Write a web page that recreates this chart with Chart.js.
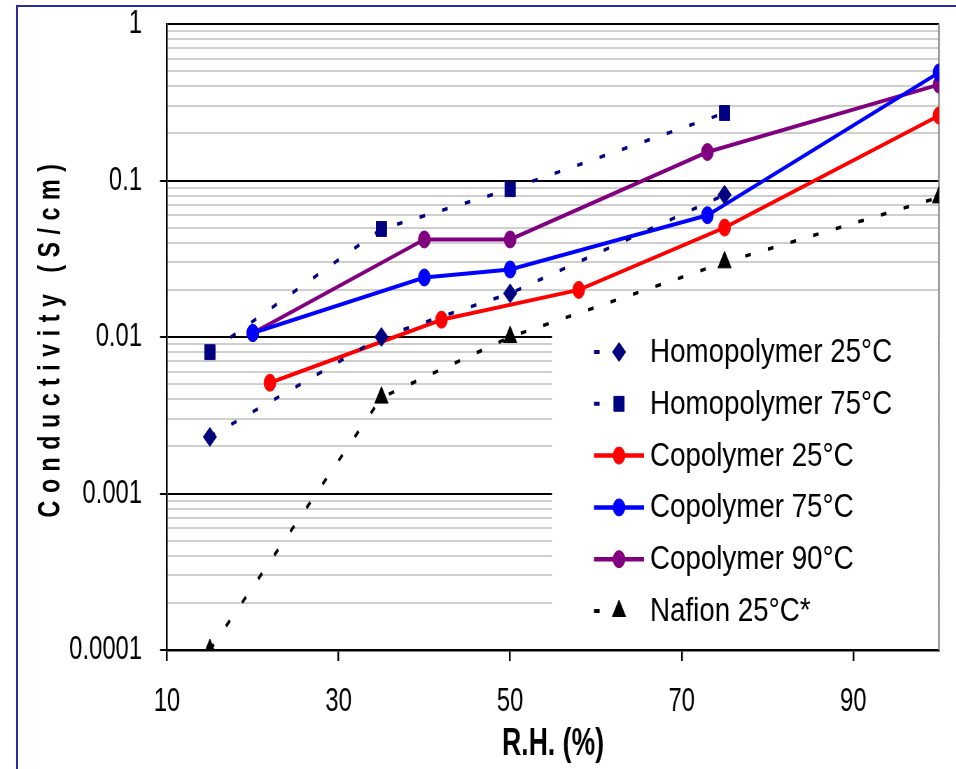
<!DOCTYPE html>
<html>
<head>
<meta charset="utf-8">
<script src="https://cdn.jsdelivr.net/npm/chart.js@4.4.0/dist/chart.umd.min.js"></script>
<style>
html, body { margin: 0; padding: 0; background: #fff; overflow: hidden; }
#frame { position: absolute; left: 16px; top: 5px; width: 1000px; height: 800px; border: 2px solid #2b2b9c; }
#wrap { position: absolute; left: 0; top: 0; width: 956px; height: 769px; overflow: hidden; }
#chart { width: 1366px; height: 769px; transform: scaleX(0.7); transform-origin: 0 0; }
</style>
</head>
<body>
<div id="frame"></div>
<div id="wrap"><canvas id="chart" width="1366" height="769"></canvas></div>
<script>
// values
var homo25X = [15, 35, 50, 75];
var homo25Y = [0.0023, 0.010, 0.019, 0.081];
var homo75X = [15, 35, 50, 75];
var homo75Y = [0.0080, 0.049, 0.088, 0.27];
var co25X = [22, 42, 58, 75, 100];
var co25Y = [0.0051, 0.0129, 0.020, 0.050, 0.26];
var co75X = [20, 40, 50, 73, 100];
var co75Y = [0.0106, 0.024, 0.027, 0.060, 0.49];
var co90X = [20, 40, 50, 73, 100];
var co90Y = [0.0106, 0.042, 0.042, 0.152, 0.41];
var nafionX = [15, 35, 50, 75, 100];
var nafionY = [0.0001, 0.0041, 0.010, 0.030, 0.078];

var seriesNames = ["Homopolymer 25\u00b0C", "Homopolymer 75\u00b0C", "Copolymer 25\u00b0C",
  "Copolymer 75\u00b0C", "Copolymer 90\u00b0C", "Nafion 25\u00b0C*"];
var xTicks = [10, 30, 50, 70, 90];
var yDecades = [0.0001, 0.001, 0.01, 0.1, 1];
var yTickLabels = ["0.0001", "0.001", "0.01", "0.1", "1"];

// the canvas is drawn wide and squeezed by CSS, like the narrow original
var SQ = 0.7;
var FONT = '"Liberation Sans", Arial, sans-serif';

function pts(xs, ys) {
  return xs.map(function (x, i) { return { x: x, y: ys[i] }; });
}
function isDecade(v) {
  return yDecades.some(function (d) { return Math.abs(v / d - 1) < 1e-6; });
}

function series(i, xs, ys, color, style, radius, dashed) {
  return {
    label: seriesNames[i],
    data: pts(xs, ys),
    borderColor: color,
    backgroundColor: color,
    borderWidth: dashed ? 3.5 : 4,
    borderDash: dashed ? [8, 25] : [],
    pointStyle: style,
    pointRadius: radius,
    pointBorderWidth: 1,
    tension: 0
  };
}

var datasets = [
  series(0, homo25X, homo25Y, "#000080", "rectRot", 9.5, true),
  series(1, homo75X, homo75Y, "#000080", "rect", 10.5, true),
  series(2, co25X, co25Y, "#ff0000", "circle", 8.5, false),
  series(3, co75X, co75Y, "#0000ff", "circle", 8.5, false),
  series(4, co90X, co90Y, "#800080", "circle", 8.5, false),
  series(5, nafionX, nafionY, "#000000", "triangle", 11, true)
];

// white legend box inside the plot, bottom right
var boxLegend = {
  id: "boxLegend",
  beforeDatasetsDraw: function (chart) {
    var ctx = chart.ctx, area = chart.chartArea;
    var bx = 552 / SQ;
    ctx.save();
    ctx.fillStyle = "#fff";
    ctx.fillRect(bx, 322, area.right - bx - 1, area.bottom - 322 - 1);
    ctx.strokeStyle = "#8c8c8c";
    ctx.lineWidth = 2.5;
    ctx.beginPath();
    ctx.moveTo(area.right, area.top);
    ctx.lineTo(area.right, area.bottom);
    ctx.stroke();

    chart.data.datasets.forEach(function (ds, i) {
      var y = 352 + i * 51.8;
      var dashed = ds.borderDash.length > 0;
      ctx.setLineDash(ds.borderDash);
      ctx.strokeStyle = ds.borderColor;
      ctx.lineWidth = ds.borderWidth + 0.5;
      ctx.beginPath();
      ctx.moveTo(594 / SQ, y);
      ctx.lineTo((dashed ? 638 : 644) / SQ, y);
      ctx.stroke();
      ctx.setLineDash([]);
      ctx.fillStyle = ds.backgroundColor;
      ctx.lineWidth = 1;
      Chart.helpers.drawPoint(ctx, { pointStyle: ds.pointStyle, radius: ds.pointRadius, rotation: 0, borderWidth: 1 }, 619 / SQ, y);
      ctx.save();
      ctx.translate(650 / SQ, y + 1);
      ctx.scale(0.84 / SQ, 1);
      ctx.fillStyle = "#000";
      ctx.font = "33px " + FONT;
      ctx.textBaseline = "middle";
      ctx.textAlign = "left";
      ctx.fillText(ds.label, 0, 0);
      ctx.restore();
    });
    ctx.restore();
  }
};

// spaced-out rotated y title
var yTitle = {
  id: "yTitle",
  afterDraw: function (chart) {
    var ctx = chart.ctx;
    ctx.save();
    ctx.translate(51 / SQ, 337);
    ctx.scale(1 / SQ, 1);
    ctx.rotate(-Math.PI / 2);
    ctx.scale(0.75, 1);
    ctx.font = "bold 31px " + FONT;
    ctx.letterSpacing = "10px";
    ctx.fillStyle = "#000";
    ctx.textAlign = "center";
    ctx.textBaseline = "middle";
    ctx.fillText("Conductivity (S/cm)", 0, 0);
    ctx.restore();
  }
};

new Chart(document.getElementById("chart").getContext("2d"), {
  type: "line",
  data: { datasets: datasets },
  options: {
    responsive: false,
    animation: false,
    layout: { padding: { left: 0, right: 1366 - 939 / SQ, top: 24, bottom: 0 } },
    plugins: { legend: { display: false }, tooltip: { enabled: false } },
    scales: {
      x: {
        type: "linear",
        min: 10,
        max: 100,
        afterBuildTicks: function (scale) {
          scale.ticks = xTicks.map(function (v) { return { value: v }; });
        },
        afterFit: function (scale) {
          scale.height = 119;
          scale.paddingLeft = 0;
          scale.paddingRight = 0;
        },
        grid: { drawOnChartArea: false, drawTicks: true, tickLength: 11, color: "#000", lineWidth: 2.5 },
        border: { color: "#000", width: 2.5 },
        ticks: { color: "#000", padding: 20, font: { family: FONT, size: 34 }, autoSkip: false, maxRotation: 0 },
        title: { display: true, text: "R.H. (%)", color: "#000", padding: { top: 0, bottom: 2 },
          font: { family: FONT, size: 38, weight: "bold" } }
      },
      y: {
        type: "logarithmic",
        min: 0.0001,
        max: 1,
        afterBuildTicks: function (scale) {
          var t = [];
          yDecades.forEach(function (d, i) {
            t.push({ value: d, major: true });
            if (i < yDecades.length - 1) {
              for (var k = 2; k <= 9; k++) t.push({ value: d * k });
            }
          });
          scale.ticks = t;
        },
        afterFit: function (scale) {
          scale.width = 167 / SQ;
          scale.paddingTop = 0;
          scale.paddingBottom = 0;
        },
        grid: {
          color: function (c) { return isDecade(c.tick.value) ? "#000" : "#cfcfcf"; },
          tickColor: function (c) { return isDecade(c.tick.value) && c.tick.value < 1 ? "#000" : "rgba(0,0,0,0)"; },
          lineWidth: 2,
          tickLength: 7 / SQ
        },
        border: { color: "#000", width: 2.5 },
        ticks: {
          color: "#000",
          padding: 18 / SQ,
          autoSkip: false,
          font: { family: FONT, size: 34 },
          callback: function (v) {
            var i = yDecades.findIndex(function (d) { return Math.abs(v / d - 1) < 1e-6; });
            return i >= 0 ? yTickLabels[i] : "";
          }
        }
      }
    }
  },
  plugins: [boxLegend, yTitle]
});
</script>
</body>
</html>
